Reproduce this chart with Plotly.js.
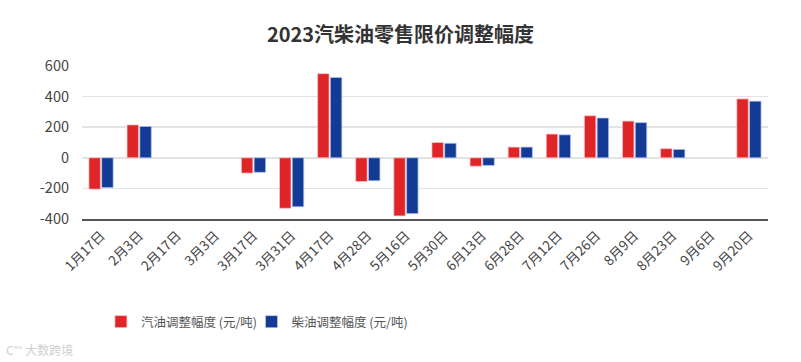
<!DOCTYPE html>
<html>
<head>
<meta charset="utf-8">
<script src="https://cdn.plot.ly/plotly-3.0.1.min.js"></script>
<style>html,body{margin:0;padding:0;background:#fff;}#chart{width:801px;height:362px;}</style>
</head>
<body>
<div id="chart"></div>
<script>
const categories = ["1月17日","2月3日","2月17日","3月3日","3月17日","3月31日","4月17日","4月28日","5月16日","5月30日","6月13日","6月28日","7月12日","7月26日","8月9日","8月23日","9月6日","9月20日"];
const gasoline = [-205, 215, null, null, -100, -330, 550, -155, -380, 100, -55, 70, 155, 275, 240, 60, null, 385];
const diesel = [-195, 205, null, null, -95, -320, 525, -150, -365, 95, -50, 70, 150, 260, 230, 55, null, 370];
const seriesNames = ["汽油调整幅度 (元/吨)", "柴油调整幅度 (元/吨)"];
const yTicks = [-400, -200, 0, 200, 400, 600];

const FONT = '"Noto Sans CJK SC", "Microsoft YaHei", sans-serif';

const traces = [
  {type: 'bar', name: seriesNames[0], x: categories, y: gasoline, legend: 'legend',
   marker: {color: '#e02528', line: {color: 'rgba(255,200,200,0.9)', width: 0.8}}},
  {type: 'bar', name: seriesNames[1], x: categories, y: diesel, legend: 'legend2',
   marker: {color: '#133b96', line: {color: 'rgba(180,200,240,0.9)', width: 0.8}}}
];

const legendCommon = {orientation: 'h', xref: 'container', yref: 'container', y: 1 - 322/362, xanchor: 'left', yanchor: 'middle',
                      font: {size: 12.5, color: '#555'}, itemwidth: 30, bgcolor: 'rgba(0,0,0,0)'};

const layout = {
  width: 801, height: 362,
  margin: {l: 82, r: 33, t: 66, b: 143},
  paper_bgcolor: '#fff', plot_bgcolor: '#fff',
  font: {family: FONT, color: '#444', size: 13},
  title: {text: '<b>2023汽柴油零售限价调整幅度</b>', font: {family: FONT, size: 20, color: '#333'},
          x: 0.5, xanchor: 'center', xref: 'container', y: 1 - 35/362, yanchor: 'middle', yref: 'container'},
  barmode: 'group', bargap: 0.33, bargroupgap: 0.1,
  xaxis: {type: 'category', tickangle: -45, showgrid: false, showline: true, linecolor: '#555', linewidth: 1.5,
          ticks: '', tickfont: {size: 13.5, color: '#444'}, ticklabelstandoff: 2, fixedrange: true},
  yaxis: {range: [-400, 600], tickvals: yTicks, ticktext: yTicks.map(String), showgrid: true, gridcolor: '#e3e3e3',
          gridwidth: 1.5, zeroline: false, showline: false, ticks: '', ticklen: 0, tickfont: {size: 14.5, color: '#444'},
          ticklabelstandoff: 12, fixedrange: true},
  showlegend: true,
  legend: Object.assign({}, legendCommon, {x: 0.126}),
  legend2: Object.assign({}, legendCommon, {x: 0.314}),
  annotations: [
    {text: 'C°° 大数跨境', xref: 'paper', yref: 'paper', x: (4-82)/686, y: -(349-219)/153, xanchor: 'left', yanchor: 'middle',
     showarrow: false, font: {size: 12, color: '#d0d0d0'}}
  ]
};

Plotly.newPlot('chart', traces, layout, {displayModeBar: false, staticPlot: true});
</script>
</body>
</html>
